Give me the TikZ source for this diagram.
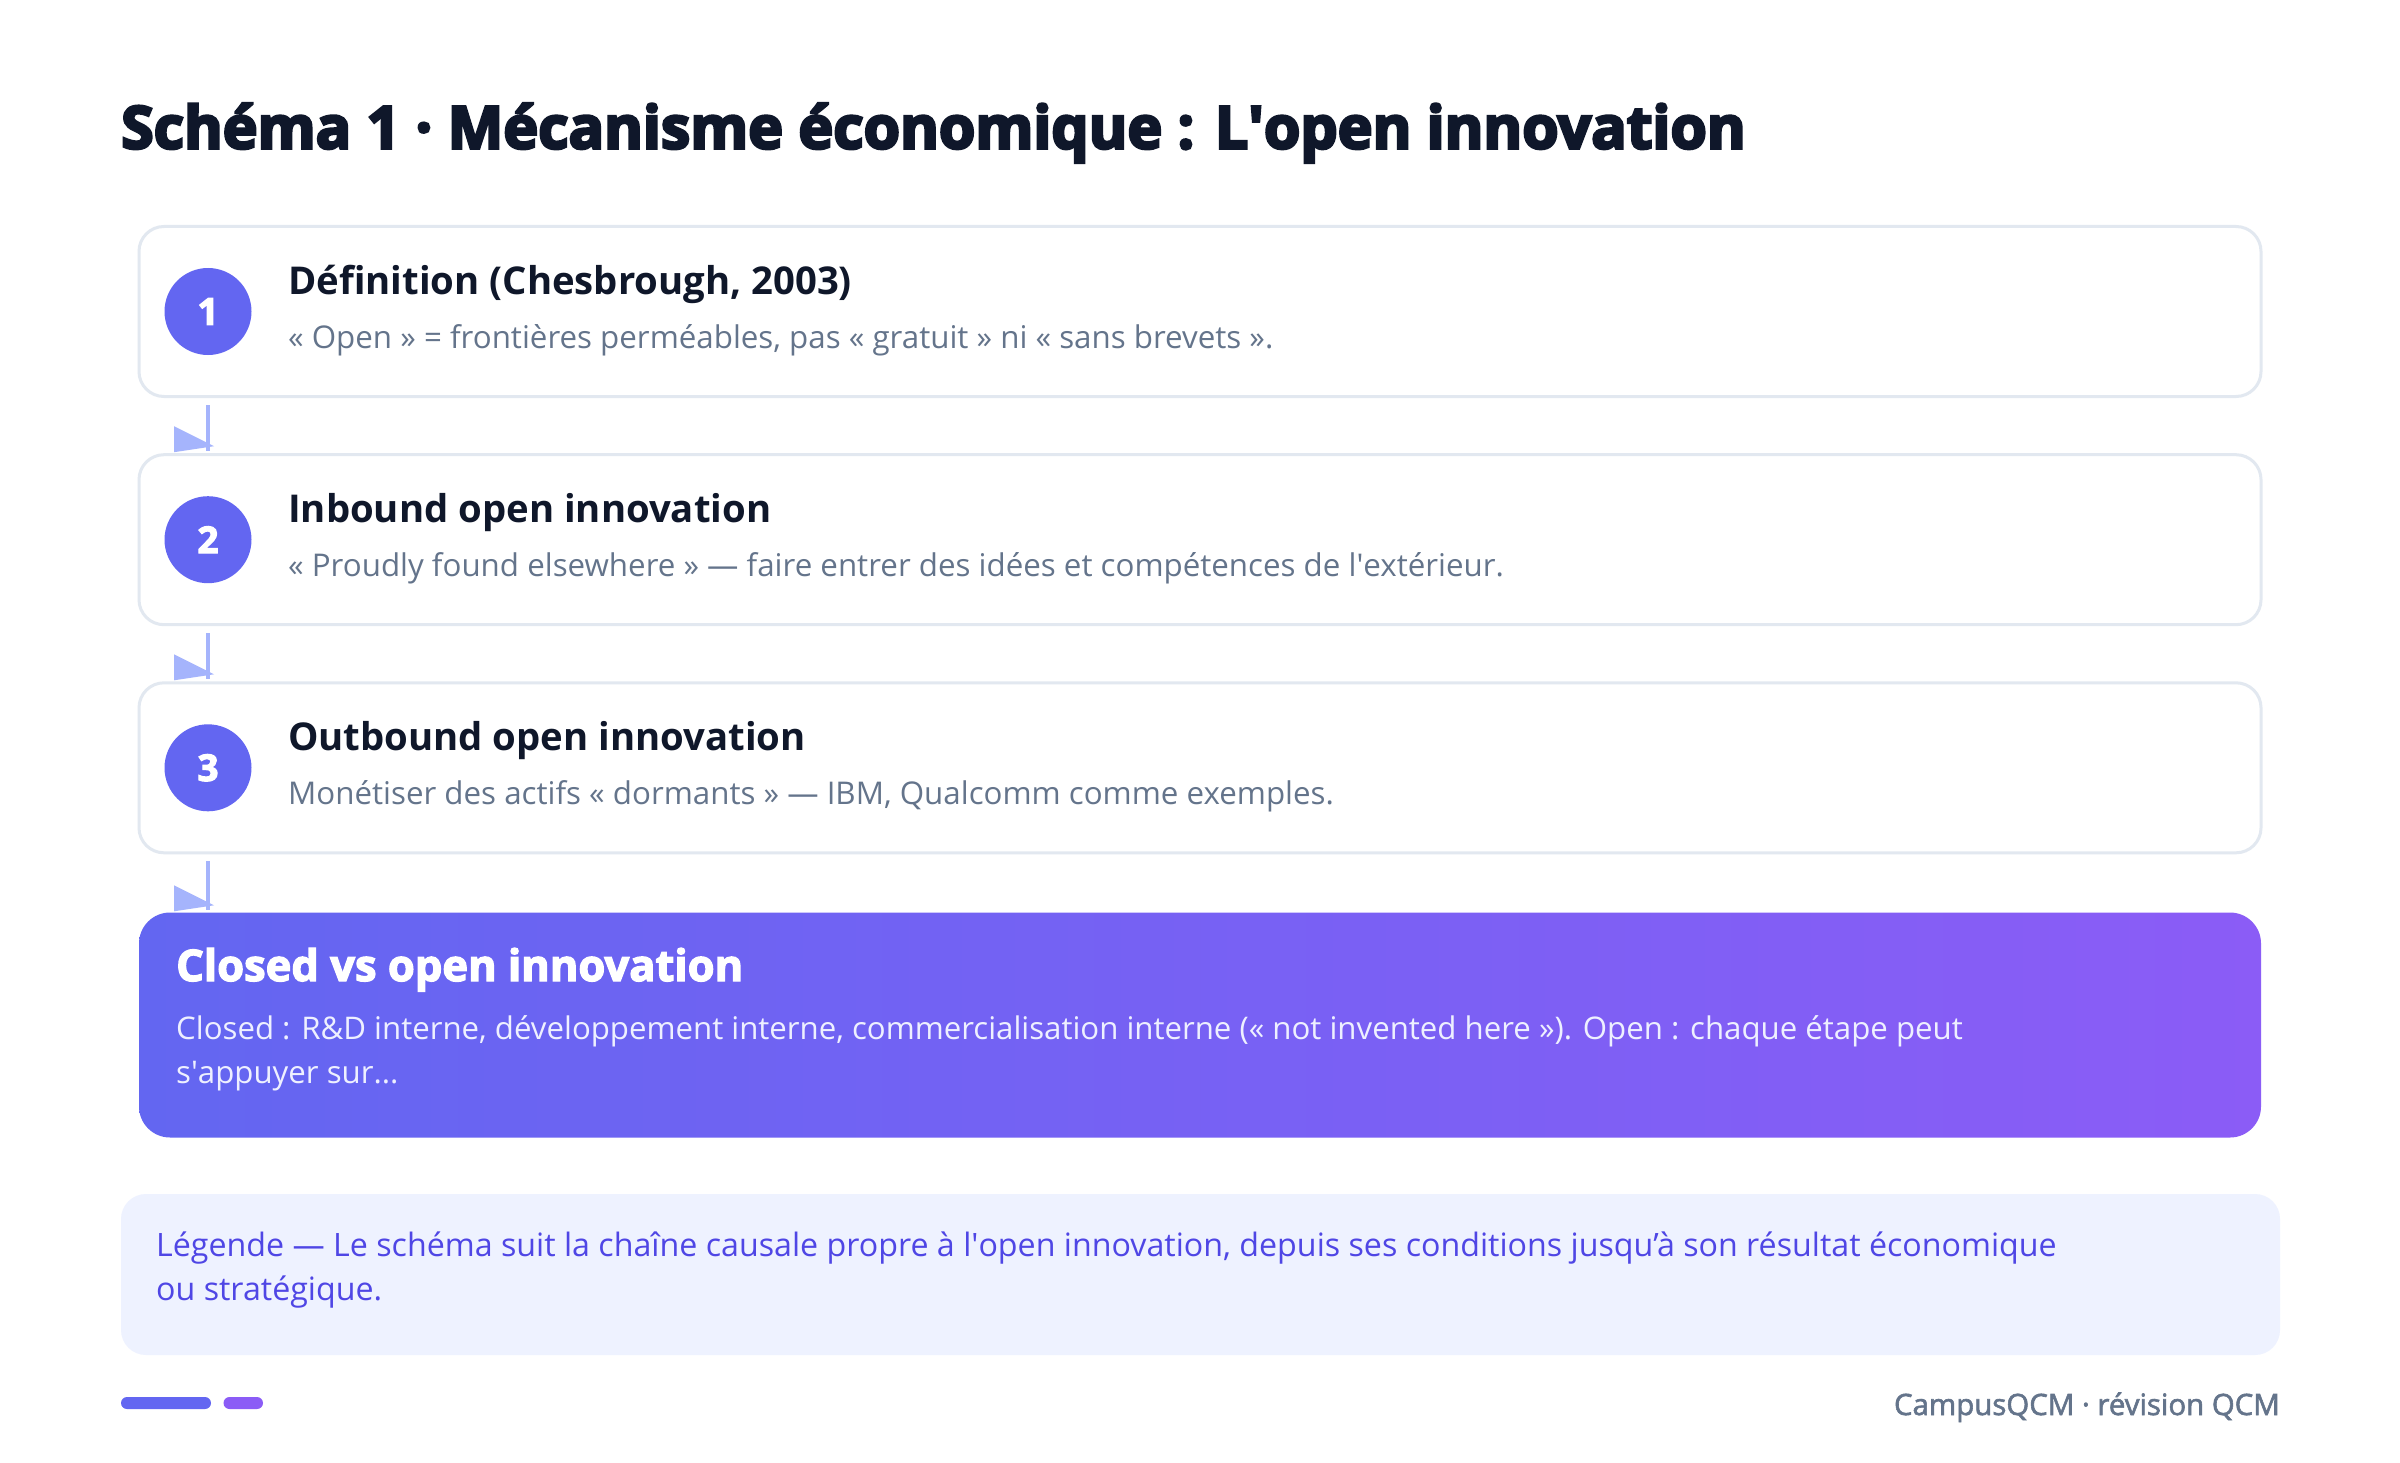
\documentclass[tikz,border=0pt]{standalone}
\usepackage{fontspec}
\setmainfont{Open Sans}
\newfontfamily\heavy[FakeBold=3]{Open Sans}
\newfontfamily\titlefont[FakeBold=4.5]{Open Sans}
\newfontfamily\semib[FakeBold=2]{Open Sans}
\usetikzlibrary{calc}
\definecolor{ink}{HTML}{0F172A}
\definecolor{muted}{HTML}{64748B}
\definecolor{cardline}{HTML}{E2E8F0}
\definecolor{indigo}{HTML}{6366F1}
\definecolor{violet}{HTML}{8B5CF6}
\definecolor{arrowc}{HTML}{A5B4FC}
\definecolor{legbg}{HTML}{EEF2FF}
\definecolor{legtx}{HTML}{4F46E5}
\definecolor{softwhite}{HTML}{EEF0FF}
\newcommand\sq{\XeTeXglyph\XeTeXcharglyph"0027\relax}
\tikzset{
  card/.style={draw=cardline, line width=3pt, fill=white, rounded corners=25pt,
    minimum width=2122pt, minimum height=170pt, inner sep=0pt},
  badge/.style={circle, fill=indigo, minimum size=87pt, inner sep=0pt, text=white,
    font=\fontsize{37}{37}\selectfont\heavy\bfseries},
  head/.style={anchor=base west, inner sep=0pt, text=ink, font=\fontsize{38.3}{38}\selectfont\bfseries},
  sub/.style={anchor=base west, inner sep=0pt, text=muted, font=\fontsize{31.3}{32}\selectfont},
  conn/.style={draw=arrowc, line width=4.5pt},
  tip/.style={fill=arrowc},
  plain/.style={anchor=base west, inner sep=0pt}
}
\begin{document}
\begin{tikzpicture}[x=1pt,y=-1pt]
\useasboundingbox (0,0) rectangle (2400,1463);
\fill[white] (0,0) rectangle (2400,1463);

% title
\node[plain, text=ink, font=\fontsize{59}{59}\selectfont\titlefont\bfseries] (title) at (121,148.5)
  {Schéma 1 · Mécanisme économique : L\sq open innovation};

% cards
\node[card] (box1) at (1200,311.5) {};
\node[card] (box2) at (1200,539.7) {};
\node[card] (box3) at (1200,767.8) {};

\node[badge] (b1) at (208,311.5) {1};
\node[badge] (b2) at (208,539.7) {2};
\node[badge] (b3) at (208,767.8) {3};

\node[head] (h1) at (288,294.5) {Définition (Chesbrough, 2003)};
\node[sub]  (s1) at (288,348.5) {« Open » = frontières perméables, pas « gratuit » ni « sans brevets ».};
\node[head] (h2) at (288,522.7) {Inbound open innovation};
\node[sub]  (s2) at (288,576.7) {« Proudly found elsewhere » — faire entrer des idées et compétences de l\sq extérieur.};
\node[head] (h3) at (288,750.8) {Outbound open innovation};
\node[sub]  (s3) at (288,804.8) {Monétiser des actifs « dormants » — IBM, Qualcomm comme exemples.};

% synthesis box
\node[rectangle, rounded corners=31pt, minimum width=2122pt, minimum height=225pt, inner sep=0pt,
  left color=indigo, right color=violet] (box4) at (1200,1025) {};
\node[plain, text=white, font=\fontsize{43.5}{43}\selectfont\heavy\bfseries] (h4) at (176,981)
  {Closed vs open innovation};
\node[plain, text=softwhite, font=\fontsize{31.2}{32}\selectfont] (s4a) at (176,1039)
  {Closed : R\&D interne, développement interne, commercialisation interne (« not invented here »). Open : chaque étape peut};
\node[plain, text=softwhite, font=\fontsize{31.2}{32}\selectfont] (s4b) at (176,1083)
  {s\sq appuyer sur...};

% connectors
\draw[conn] ($(box1.south -| b1)+(0,7)$) -- ($(box2.north -| b2)+(0,-2)$);
\fill[tip] ($(box2.north -| b2)+(-34,-27)$) -- ++(0,26) -- ++(40,-6) -- cycle;
\draw[conn] ($(box2.south -| b2)+(0,7)$) -- ($(box3.north -| b3)+(0,-2)$);
\fill[tip] ($(box3.north -| b3)+(-34,-27)$) -- ++(0,26) -- ++(40,-6) -- cycle;
\draw[conn] ($(box3.south -| b3)+(0,7)$) -- ($(box4.north -| b3)+(0,-2)$);
\fill[tip] ($(box4.north -| b3)+(-34,-27)$) -- ++(0,26) -- ++(40,-6) -- cycle;

% legend
\node[rectangle, rounded corners=25pt, fill=legbg, minimum width=2159pt, minimum height=161pt, inner sep=0pt]
  (leg) at (1200.5,1274.5) {};
\node[plain, text=legtx, font=\fontsize{32.2}{32}\selectfont] (l1) at (156,1256)
  {Légende — Le schéma suit la chaîne causale propre à l\sq open innovation, depuis ses conditions jusqu’à son résultat économique};
\node[plain, text=legtx, font=\fontsize{32.2}{32}\selectfont] (l2) at (156,1300)
  {ou stratégique.};

% footer
\fill[indigo, rounded corners=6pt] (121,1397) rectangle (211,1409);
\fill[violet, rounded corners=6pt] (223.5,1397) rectangle (263,1409);
\node[anchor=base east, inner sep=0pt, text=muted, font=\fontsize{29.4}{29}\selectfont\semib] (foot) at (2280,1415)
  {CampusQCM · révision QCM};
\end{tikzpicture}
\end{document}
